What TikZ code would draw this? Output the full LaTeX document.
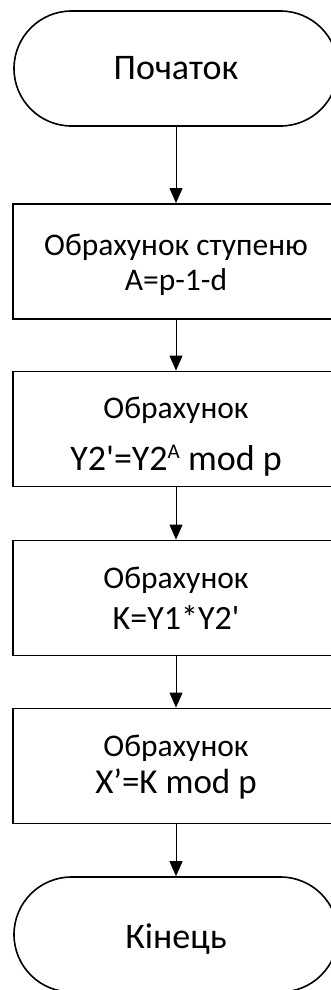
\documentclass[tikz,border=0pt]{standalone}
\usepackage{fontspec}
\setmainfont{Carlito}[Ligatures=TeXOff]
\usetikzlibrary{arrows.meta,shapes.misc}
\begin{document}
\begin{tikzpicture}[x=1pt,y=-1pt,
  term/.style={draw,line width=1.6pt,rounded rectangle,minimum width=324pt,minimum height=115pt,inner sep=0pt},
  proc/.style={draw,line width=1.8pt,rectangle,minimum width=326pt,minimum height=115pt,inner sep=0pt},
  txt/.style={anchor=base,inner sep=0pt},
  flow/.style={line width=1pt,-{Triangle[length=15pt,width=13pt]}}]
\useasboundingbox (0,0) rectangle (331,990);
\clip (0,0) rectangle (331,990);
\node[term] (start) at (176,68.5) {};
\node[txt,font=\fontsize{36}{43}\selectfont] (startt) at (176,80) {Початок};
\node[proc] (b1) at (176,261.5) {};
\node[txt,font=\fontsize{31.5}{38}\selectfont] (b1a) at (176,255) {Обрахунок ступеню};
\node[txt,font=\fontsize{31.5}{38}\selectfont] (b1b) at (176,290) {A=p-1-d};
\node[proc] (b2) at (176,429) {};
\node[txt,font=\fontsize{31.5}{38}\selectfont] (b2a) at (176,418) {Обрахунок};
\node[txt,font=\fontsize{36}{43}\selectfont] (b2b) at (176,470) {Y2'=Y2\raisebox{12pt}{\fontsize{21}{25}\selectfont A} mod p};
\node[proc] (b3) at (176,598) {};
\node[txt,font=\fontsize{31.5}{38}\selectfont] (b3a) at (176,588) {Обрахунок};
\node[txt,font=\fontsize{34}{41}\selectfont] (b3b) at (176,629) {K=Y1*Y2'};
\node[proc] (b4) at (176,766) {};
\node[txt,font=\fontsize{31.5}{38}\selectfont] (b4a) at (176,756) {Обрахунок};
\node[txt,font=\fontsize{35}{42}\selectfont] (b4b) at (176,793) {X’=K mod p};
\node[term] (end) at (176,934.5) {};
\node[txt,font=\fontsize{36}{43}\selectfont] (endt) at (176,948) {Кінець};
\draw[flow] (start) -- (b1);
\draw[flow] (b1) -- (b2);
\draw[flow] (b2) -- (b3);
\draw[flow] (b3) -- (b4);
\draw[flow] (b4) -- (end);
\end{tikzpicture}
\end{document}
